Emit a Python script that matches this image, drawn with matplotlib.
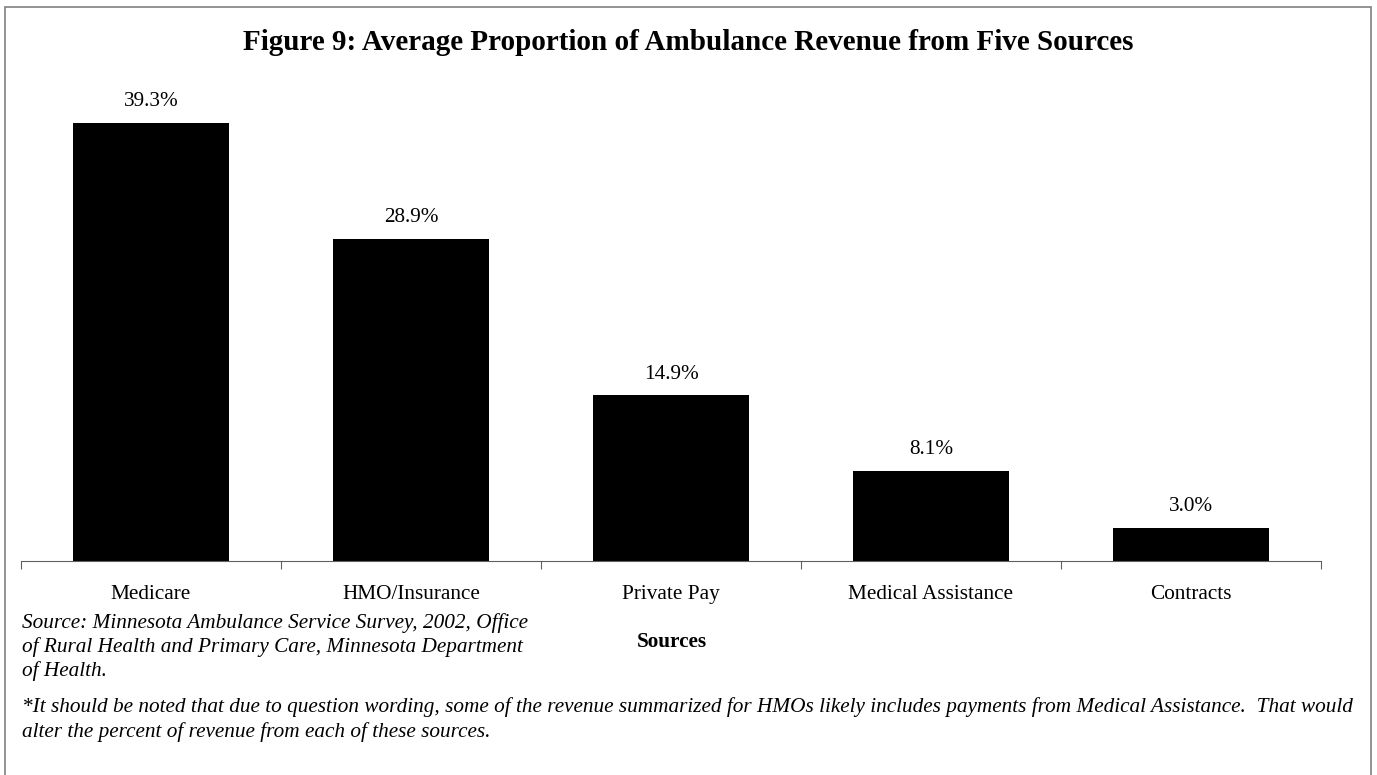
import matplotlib.pyplot as plt
from matplotlib.patches import Rectangle

categories = ['Medicare', 'HMO/Insurance', 'Private Pay', 'Medical Assistance', 'Contracts']
shares = [39.3, 28.9, 14.9, 8.1, 3.0]

plt.rcParams['font.family'] = 'Liberation Serif'
FS = 15.3

W, H = 1377, 775
fig = plt.figure(figsize=(W / 100, H / 100), dpi=100)

# outer frame
fig.patches.append(Rectangle((5 / W, -0.02), 1366 / W, 1 - 7 / H + 0.02,
                             transform=fig.transFigure, fill=False,
                             edgecolor='#808080', linewidth=1.2))

ax_left, ax_right, ax_bottom, ax_top = 21, 1321, 561, 59
ax = fig.add_axes([ax_left / W, 1 - ax_bottom / H,
                   (ax_right - ax_left) / W, (ax_bottom - ax_top) / H])

x = range(len(categories))
bars = ax.bar(x, shares, width=0.6, color='black')
ax.set_xlim(-0.5, len(categories) - 0.5)
ax.set_ylim(0, 45)

for b, v in zip(bars, shares):
    ax.text(b.get_x() + b.get_width() / 2, v + 1.0, f'{v:.1f}%',
            ha='center', va='bottom', fontsize=FS)

for s in ['top', 'right', 'left']:
    ax.spines[s].set_visible(False)
ax.spines['bottom'].set_color('#606060')
ax.set_yticks([])
ax.set_xticks([i - 0.5 for i in range(len(categories) + 1)])
ax.set_xticklabels([])
ax.tick_params(axis='x', length=6, color='#606060', direction='out')
for i, c in enumerate(categories):
    ax.text(i, -3.0, c, ha='center', va='center', fontsize=FS)

fig.text(688 / W, 1 - 42 / H, 'Figure 9: Average Proportion of Ambulance Revenue from Five Sources',
         ha='center', va='center', fontsize=21, fontweight='bold')
fig.text(672 / W, 1 - 642 / H, 'Sources', ha='center', va='center',
         fontsize=FS, fontweight='bold')

source = ['Source: Minnesota Ambulance Service Survey, 2002, Office',
          'of Rural Health and Primary Care, Minnesota Department',
          'of Health.']
for i, line in enumerate(source):
    fig.text(22 / W, 1 - (623 + 24 * i) / H, line, ha='left', va='center',
             fontsize=FS, style='italic')

note = ['*It should be noted that due to question wording, some of the revenue summarized for HMOs likely includes payments from Medical Assistance.  That would',
        'alter the percent of revenue from each of these sources.']
for i, line in enumerate(note):
    fig.text(22 / W, 1 - (707 + 25 * i) / H, line, ha='left', va='center',
             fontsize=FS, style='italic')

fig.savefig('out.png', dpi=100)
